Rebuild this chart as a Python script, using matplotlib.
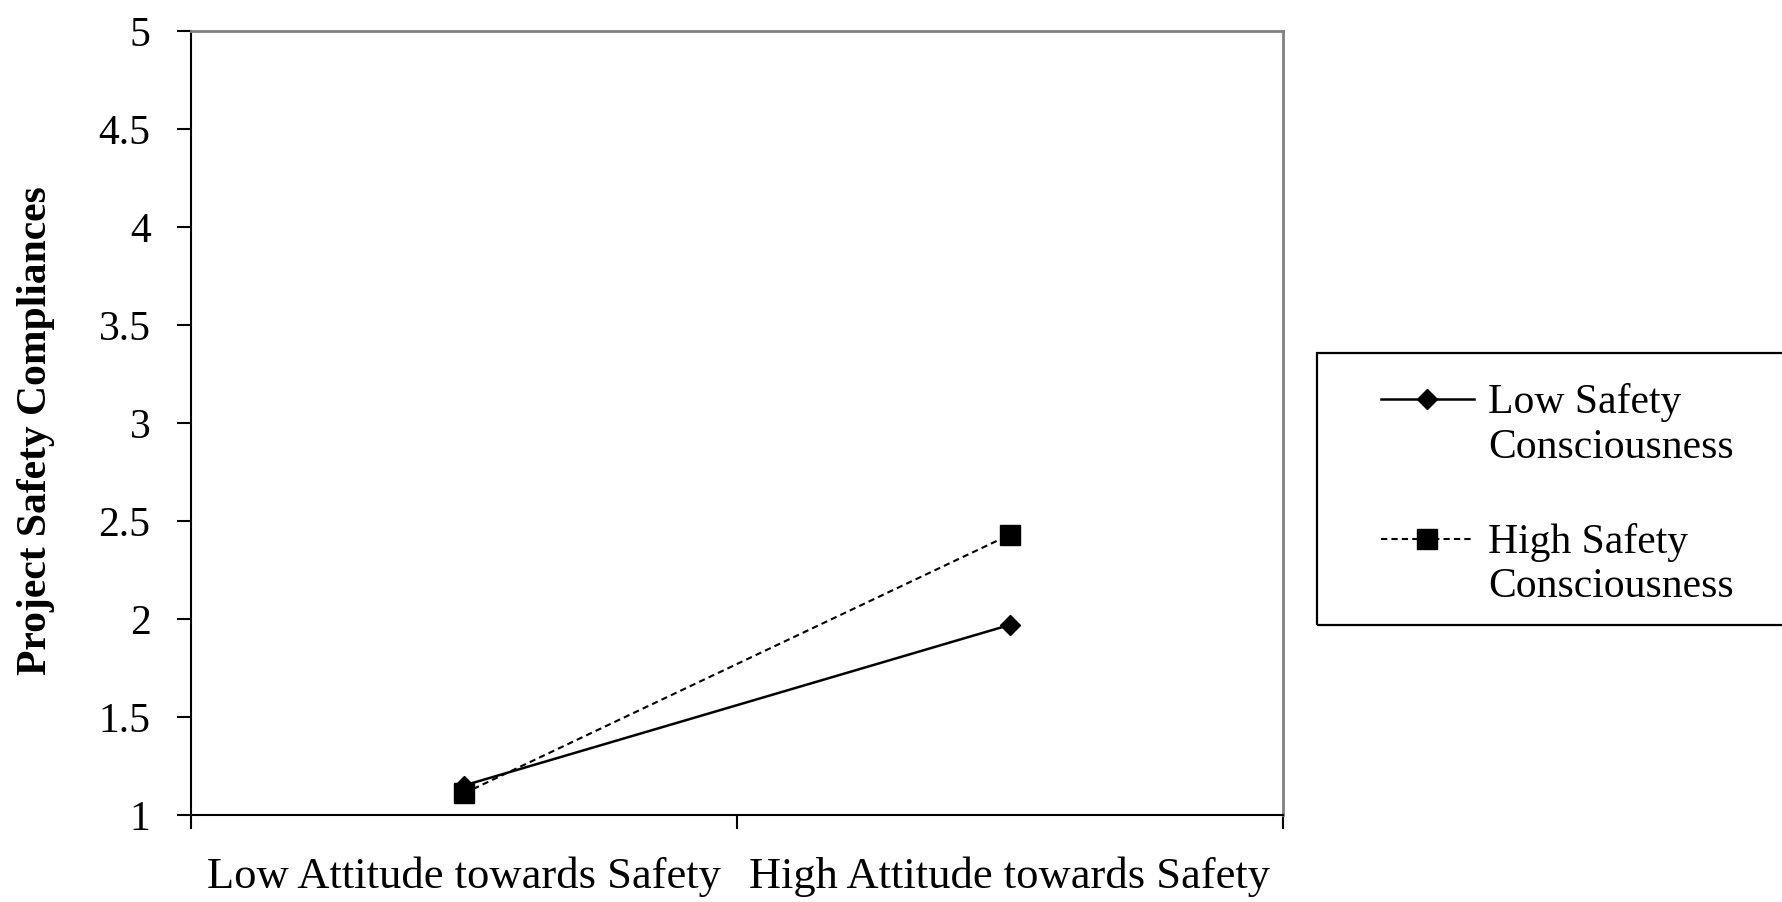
import numpy as np
import matplotlib.pyplot as plt
from matplotlib.legend_handler import HandlerLine2D
from matplotlib.patches import Rectangle

plt.rcParams['font.family'] = ['Liberation Serif', 'DejaVu Serif']

categories = ['Low Attitude towards Safety', 'High Attitude towards Safety']
low_consc = [1.15, 1.97]
high_consc = [1.11, 2.43]
yticks = [1, 1.5, 2, 2.5, 3, 3.5, 4, 4.5, 5]
ytick_labels = ['1', '1.5', '2', '2.5', '3', '3.5', '4', '4.5', '5']


# legend handle sits on the first line of a two line label
class TopLineHandler(HandlerLine2D):
    def create_artists(self, legend, orig_handle, xdescent, ydescent,
                       width, height, fontsize, trans):
        arts = super().create_artists(legend, orig_handle, xdescent, ydescent,
                                      width, height, fontsize, trans)
        for a in arts:
            a.set_ydata(np.asarray(a.get_ydata()) + 0.62 * fontsize)
        return arts


fig = plt.figure(figsize=(17.83, 9.02), dpi=100)
ax = fig.add_axes([0.107, 0.0965, 0.6125, 0.869])

xpos = [0.5, 1.5]
l1, = ax.plot(xpos, low_consc, color='black', linestyle='-', linewidth=1.8,
              marker='D', markersize=10, label='Low Safety\nConsciousness')
l2, = ax.plot(xpos, high_consc, color='black', linestyle=(0, (3, 2)), linewidth=1.5,
              marker='s', markersize=14, label='High Safety\nConsciousness')

ax.set_xlim(0, 2)
ax.set_ylim(1, 5)
ax.set_yticks(yticks)
ax.set_yticklabels(ytick_labels)
ax.set_xticks([0, 1, 2])
ax.set_xticklabels([])
ax.set_xticks(xpos, minor=True)
ax.set_xticklabels(categories, minor=True)
ax.tick_params(axis='x', which='minor', length=0, pad=30, labelsize=32)
ax.tick_params(axis='x', which='major', direction='out', length=10, width=1.5)
ax.tick_params(axis='y', direction='out', length=10, width=1.5, labelsize=30, pad=19)

for s in ['top', 'right']:
    ax.spines[s].set_color('#808080')
    ax.spines[s].set_linewidth(2)
for s in ['left', 'bottom']:
    ax.spines[s].set_color('black')
    ax.spines[s].set_linewidth(1.5)

ax.set_ylabel('Project Safety Compliances', fontsize=30, fontweight='bold')
ax.yaxis.set_label_coords(-0.124, 0.49)

# legend box runs off the right edge of the picture
fig.add_artist(Rectangle((0.7386, 0.3071), 0.3, 0.3015, transform=fig.transFigure,
                         fill=False, edgecolor='black', linewidth=1.6))

ax.legend(handles=[l1, l2], loc='upper left', bbox_to_anchor=(0.7745, 0.575),
          bbox_transform=fig.transFigure, fontsize=30, frameon=False,
          handlelength=2.23, borderpad=0, borderaxespad=0, labelspacing=1.35,
          handletextpad=0.34,
          handler_map={l1: TopLineHandler(), l2: TopLineHandler()})

fig.savefig('out.png', dpi=100)
